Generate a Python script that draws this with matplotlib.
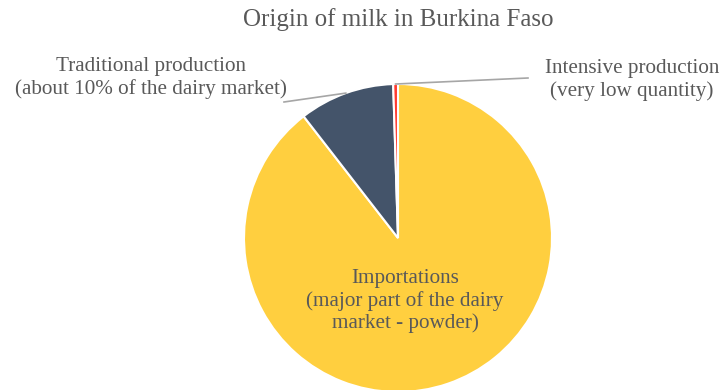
import numpy as np
import matplotlib
matplotlib.use("Agg")
import matplotlib.pyplot as plt

plt.rcParams['font.family'] = ['Liberation Serif', 'DejaVu Serif']

# Data
labels = ["Importations\n(major part of the dairy\nmarket - powder)",
          "Traditional production\n(about 10% of the dairy market)",
          "Intensive production\n(very low quantity)"]
shares = [89.5, 10.0, 0.5]
colors = ["#FFCF3F", "#44546A", "#FF3B30"]

title = "Origin of milk in Burkina Faso"
text_color = "#595959"

# Figure: 721x390 px, pie center at (398, 238) px with radius 154 px
W, H = 721, 390
cx, cy, r = 398, 238, 154
fig = plt.figure(figsize=(W / 100, H / 100), dpi=100)
ax = fig.add_axes([0, 0, 1, 1])


def px(x, y):
    # pixel position -> data coords
    return (x - cx) / r, (cy - y) / r


wedges, _ = ax.pie(shares, colors=colors, startangle=90, counterclock=False,
                   radius=1, center=(0, 0), frame=True,
                   wedgeprops=dict(edgecolor="white", linewidth=1.5))
ax.set_xlim(-cx / r, (W - cx) / r)
ax.set_ylim(-(H - cy) / r, cy / r)
ax.set_aspect("equal")
ax.axis("off")

fs = 15.2

# Importations label inside the pie
tx, ty = px(405, 301)
ax.text(tx, ty, labels[0], ha="center", va="center", fontsize=fs,
        color=text_color, linespacing=1.2)

# Outside labels with leader lines
label_pos = {1: px(151, 78), 2: px(632, 80)}
line_end = {1: px(284, 102), 2: px(528, 78)}
for i in (1, 2):
    w = wedges[i]
    mid = np.deg2rad((w.theta1 + w.theta2) / 2)
    ex, ey = np.cos(mid), np.sin(mid)
    lx, ly = line_end[i]
    ax.plot([ex, lx], [ey, ly], color="#A6A6A6", linewidth=1.2)
    tx, ty = label_pos[i]
    ax.text(tx, ty, labels[i], ha="center", va="center", fontsize=fs,
            color=text_color, linespacing=1.25)

fig.text(398 / W, 1 - 20 / H, title, ha="center", va="center",
         fontsize=18, color=text_color)

fig.savefig("out.png", dpi=100)
